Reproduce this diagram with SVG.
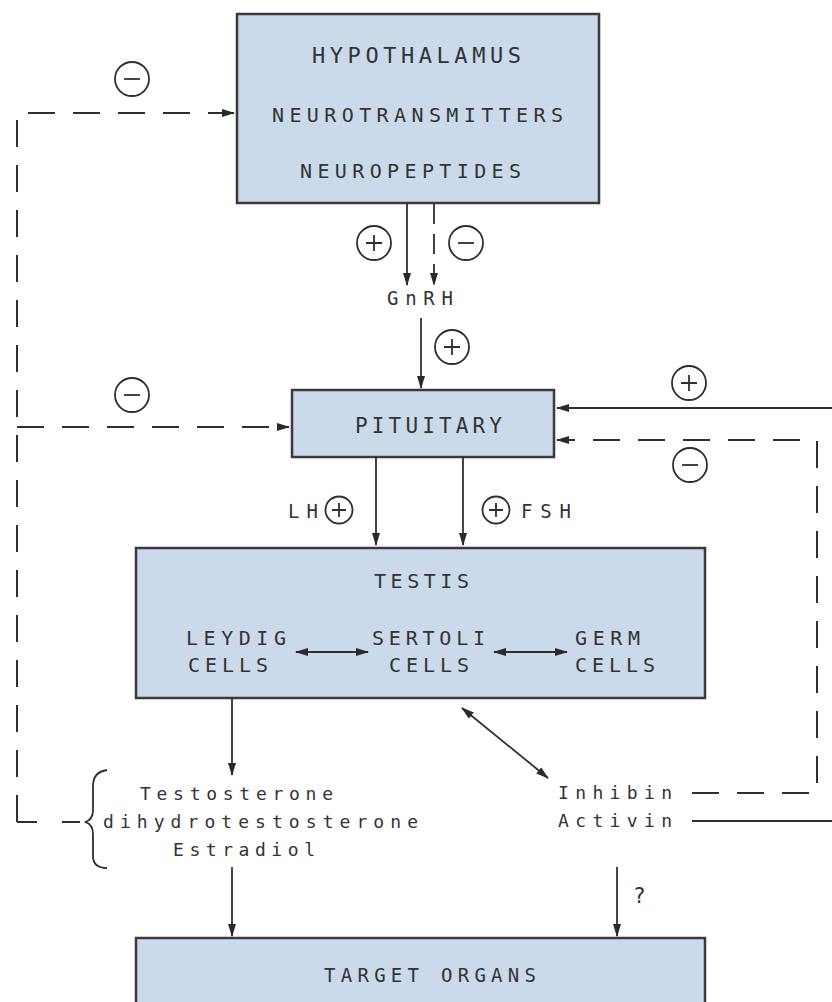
<svg xmlns="http://www.w3.org/2000/svg" width="832" height="1002" viewBox="0 0 832 1002">
<defs>
<marker id="ah" markerWidth="13" markerHeight="8" refX="12" refY="4" orient="auto-start-reverse" markerUnits="userSpaceOnUse">
<path d="M0,0 L13,4 L0,8 Z" fill="#2a2a2a"/>
</marker>
<style>
.box{fill:#cadaea;stroke:#3a3a3a;stroke-width:2.5}
.t{font-family:"DejaVu Sans Mono","Liberation Mono",monospace;fill:#333}
.ln{fill:none;stroke:#2f2f2f;stroke-width:1.8}
.ds{fill:none;stroke:#2f2f2f;stroke-width:2;stroke-dasharray:27 18}
.sg{fill:none;stroke:#2f2f2f;stroke-width:1.8}
</style>
</defs>
<rect width="832" height="1002" fill="#fff"/>

<g id="hypothalamus">
<rect class="box" x="237" y="14" width="362" height="189"/>
<text class="t" x="312" y="63" font-size="22" textLength="209" lengthAdjust="spacing">HYPOTHALAMUS</text>
<text class="t" x="272" y="122" font-size="20" textLength="291" lengthAdjust="spacing">NEUROTRANSMITTERS</text>
<text class="t" x="300" y="178" font-size="20" textLength="221" lengthAdjust="spacing">NEUROPEPTIDES</text>
</g>

<g id="gnrh">
<text class="t" x="387" y="305" font-size="19" textLength="66" lengthAdjust="spacing">GnRH</text>
</g>

<g id="pituitary">
<rect class="box" x="292" y="390" width="262" height="67"/>
<text class="t" x="355" y="433" font-size="21" textLength="147" lengthAdjust="spacing">PITUITARY</text>
</g>

<g id="testis">
<rect class="box" x="136" y="548" width="569" height="150"/>
<text class="t" x="374" y="588" font-size="20" textLength="95" lengthAdjust="spacing">TESTIS</text>
<text class="t" x="186" y="645" font-size="20" textLength="100" lengthAdjust="spacing">LEYDIG</text>
<text class="t" x="188" y="672" font-size="20" textLength="80" lengthAdjust="spacing">CELLS</text>
<text class="t" x="372" y="645" font-size="20" textLength="113" lengthAdjust="spacing">SERTOLI</text>
<text class="t" x="389" y="672" font-size="20" textLength="80" lengthAdjust="spacing">CELLS</text>
<text class="t" x="575" y="645" font-size="20" textLength="65" lengthAdjust="spacing">GERM</text>
<text class="t" x="575" y="672" font-size="20" textLength="80" lengthAdjust="spacing">CELLS</text>
<line class="ln" x1="296" y1="652" x2="368" y2="652" marker-start="url(#ah)" marker-end="url(#ah)"/>
<line class="ln" x1="494" y1="652" x2="567" y2="652" marker-start="url(#ah)" marker-end="url(#ah)"/>
</g>

<g id="steroids">
<text class="t" x="140" y="800" font-size="18" textLength="193" lengthAdjust="spacing">Testosterone</text>
<text class="t" x="103" y="828" font-size="18" textLength="315" lengthAdjust="spacing">dihydrotestosterone</text>
<text class="t" x="173" y="856" font-size="18" textLength="142" lengthAdjust="spacing">Estradiol</text>
<path class="ln" d="M107,770 Q93,772 93,786 L93,810 Q93,820 85,822 Q93,824 93,834 L93,856 Q93,868 107,868"/>
</g>

<g id="inhibin">
<text class="t" x="558" y="799" font-size="18" textLength="114" lengthAdjust="spacing">Inhibin</text>
<text class="t" x="558" y="827" font-size="18" textLength="114" lengthAdjust="spacing">Activin</text>
</g>

<g id="target">
<rect class="box" x="136" y="938" width="569" height="80"/>
<text class="t" x="324" y="982" font-size="19" textLength="212" lengthAdjust="spacing">TARGET ORGANS</text>
<text class="t" x="633" y="903" font-size="21">?</text>
</g>

<g id="connectors">
<line class="ln" x1="407" y1="204" x2="407" y2="285" marker-end="url(#ah)"/>
<line class="ln" x1="434" y1="204" x2="434" y2="285" stroke-dasharray="20 10" marker-end="url(#ah)"/>
<line class="ln" x1="421" y1="318" x2="421" y2="388" marker-end="url(#ah)"/>
<path class="ds" d="M17,822 V113 H234" marker-end="url(#ah)"/>
<path class="ds" d="M17,427 H289" marker-end="url(#ah)"/>
<path class="ln" d="M17,822 H37 M62,822 H80" stroke-width="2"/>
<line class="ln" x1="832" y1="408" x2="557" y2="408" marker-end="url(#ah)"/>
<path class="ds" d="M692,793 H817 V440 H557" marker-end="url(#ah)"/>
<line class="ln" x1="692" y1="821" x2="832" y2="821"/>
<line class="ln" x1="376" y1="457" x2="376" y2="545" marker-end="url(#ah)"/>
<line class="ln" x1="463" y1="457" x2="463" y2="545" marker-end="url(#ah)"/>
<line class="ln" x1="232" y1="698" x2="232" y2="775" marker-end="url(#ah)"/>
<line class="ln" x1="462" y1="708" x2="548" y2="778" marker-start="url(#ah)" marker-end="url(#ah)"/>
<line class="ln" x1="232" y1="867" x2="232" y2="936" marker-end="url(#ah)"/>
<line class="ln" x1="617" y1="867" x2="617" y2="936" marker-end="url(#ah)"/>
</g>

<g id="signs">
<circle class="sg" cx="132" cy="79" r="17"/><path class="sg" d="M124,79 H140"/>
<circle class="sg" cx="374" cy="243" r="17"/><path class="sg" d="M366,243 H382 M374,235 V251"/>
<circle class="sg" cx="466" cy="243" r="17"/><path class="sg" d="M458,243 H474"/>
<circle class="sg" cx="452" cy="347" r="17"/><path class="sg" d="M444,347 H460 M452,339 V355"/>
<circle class="sg" cx="132" cy="395" r="17"/><path class="sg" d="M124,395 H140"/>
<circle class="sg" cx="689" cy="383" r="17"/><path class="sg" d="M681,383 H697 M689,375 V391"/>
<circle class="sg" cx="690" cy="465" r="17"/><path class="sg" d="M682,465 H698"/>
<circle class="sg" cx="339" cy="510" r="13.5"/><path class="sg" d="M332,510 H346 M339,503 V517"/>
<text class="t" x="288" y="518" font-size="19" textLength="30" lengthAdjust="spacing">LH</text>
<circle class="sg" cx="496" cy="510" r="13.5"/><path class="sg" d="M489,510 H503 M496,503 V517"/>
<text class="t" x="521" y="518" font-size="19" textLength="50" lengthAdjust="spacing">FSH</text>
</g>
</svg>
